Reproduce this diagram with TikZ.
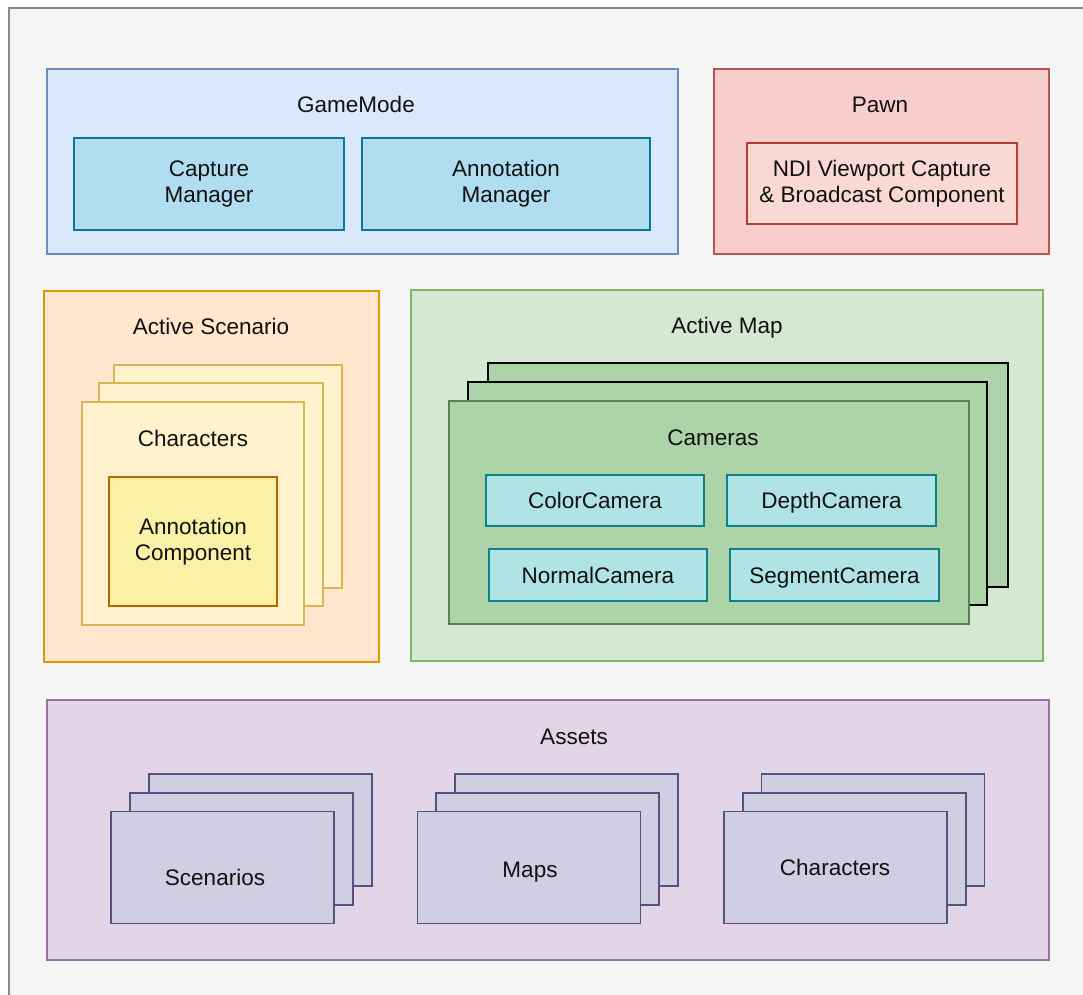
\documentclass[tikz,border=0pt]{standalone}
\usepackage{fontspec}
\setmainfont{Liberation Sans}
\definecolor{frameFill}{HTML}{F5F5F5}
\definecolor{frameLine}{HTML}{8A8A8A}
\definecolor{blueFill}{HTML}{DAE8FC}
\definecolor{blueLine}{HTML}{6C8EBF}
\definecolor{cyanFill}{HTML}{B1DDF0}
\definecolor{cyanLine}{HTML}{10739E}
\definecolor{redFill}{HTML}{F8CECC}
\definecolor{redLine}{HTML}{B85450}
\definecolor{pinkFill}{HTML}{FAD9D5}
\definecolor{pinkLine}{HTML}{AE4132}
\definecolor{orangeFill}{HTML}{FFE6CC}
\definecolor{orangeLine}{HTML}{D79B00}
\definecolor{yellowFill}{HTML}{FFF2CC}
\definecolor{yellowLine}{HTML}{D6B656}
\definecolor{goldFill}{HTML}{F9F1A6}
\definecolor{goldLine}{HTML}{B46504}
\definecolor{greenFill}{HTML}{D5E8D4}
\definecolor{greenLine}{HTML}{82B366}
\definecolor{camFill}{HTML}{ADD4A9}
\definecolor{camLine}{HTML}{5E7F4F}
\definecolor{tealFill}{HTML}{B0E3E6}
\definecolor{tealLine}{HTML}{0E8088}
\definecolor{purpleFill}{HTML}{E1D5E7}
\definecolor{purpleLine}{HTML}{9673A6}
\definecolor{slateFill}{HTML}{D0CEE2}
\definecolor{slateLine}{HTML}{56517E}
\definecolor{ink}{HTML}{111111}
\tikzset{
  txt/.style={text=ink, align=center, font=\fontsize{22.5}{26}\selectfont},
  oneline/.style={text height=16pt, text depth=0pt},
  box/.style={txt, draw, rectangle, inner sep=0pt, outer sep=0pt, line width=1.8pt},
  title/.style={txt, oneline, inner sep=0pt},
  sz/.style 2 args={minimum width=#1, minimum height=#2},
  bluebox/.style={box, fill=blueFill, draw=blueLine},
  cyanbox/.style={box, fill=cyanFill, draw=cyanLine},
  redbox/.style={box, fill=redFill, draw=redLine},
  pinkbox/.style={box, fill=pinkFill, draw=pinkLine},
  orangebox/.style={box, fill=orangeFill, draw=orangeLine},
  yellowbox/.style={box, fill=yellowFill, draw=yellowLine},
  goldbox/.style={box, fill=goldFill, draw=goldLine},
  greenbox/.style={box, fill=greenFill, draw=greenLine},
  cambox/.style={box, fill=camFill, draw=camLine},
  camback/.style={box, fill=camFill, draw=black},
  tealbox/.style={box, oneline, fill=tealFill, draw=tealLine},
  purplebox/.style={box, fill=purpleFill, draw=purpleLine},
  slatebox/.style={box, fill=slateFill, draw=slateLine, sz={223}{112}},
}
\begin{document}
\begin{tikzpicture}[x=1pt, y=-1pt]
  \useasboundingbox (0,0) rectangle (1083,994);
  \fill[white] (0,0) rectangle (1083,994);
  \begin{scope}
    \clip (0,0) rectangle (1083,994);
    \draw[fill=frameFill, draw=frameLine, line width=2pt] (9,8) rectangle (1110,1020);
  \end{scope}

  % GameMode
  \node[bluebox, sz={631}{185}] (gm) at (362.5,161.5) {};
  \node[title] (gmT) at (356,104) {GameMode};
  \node[cyanbox, sz={270}{92}] (cap) at (209,184) {Capture\\Manager};
  \node[cyanbox, sz={288}{92}] (ann) at (506,184) {Annotation\\Manager};

  % Pawn
  \node[redbox, sz={335}{185}] (pawn) at (881.5,161.5) {};
  \node[title] (pawnT) at (880,104) {Pawn};
  \node[pinkbox, sz={270}{81}] (ndi) at (882,183.5) {NDI Viewport Capture\\\& Broadcast Component};

  % Active Scenario
  \node[orangebox, sz={335}{371}] (scen) at (211.5,476.5) {};
  \node[title] (scenT) at (211,326) {Active Scenario};
  \node[yellowbox, sz={228}{223}] (chC) at (228,476.5) {};
  \node[yellowbox, sz={224}{223}] (chB) at (211,494.5) {};
  \node[yellowbox, sz={222}{223}] (chA) at (193,513.5) {};
  \node[title] (chT) at (193,438) {Characters};
  \node[goldbox, sz={168}{129}] (annc) at (193,541.5) {Annotation\\Component};

  % Active Map
  \node[greenbox, sz={632}{371}] (map) at (727,475.5) {};
  \node[title] (mapT) at (727,325) {Active Map};
  \node[camback, sz={520}{224}] (camC) at (748,475) {};
  \node[camback, sz={519}{223}] (camB) at (727.5,493.5) {};
  \node[cambox, sz={520}{223}] (camA) at (709,512.5) {};
  \node[title] (camT) at (713,437) {Cameras};
  \node[tealbox, sz={218}{51}] (color) at (595,500.5) {ColorCamera};
  \node[tealbox, sz={209}{51}] (depth) at (831.5,500.5) {DepthCamera};
  \node[tealbox, sz={218}{52}] (normal) at (598,575) {NormalCamera};
  \node[tealbox, sz={209}{52}] (segment) at (834.5,575) {SegmentCamera};

  % Assets
  \node[purplebox, sz={1002}{260}] (assets) at (548,830) {};
  \node[title] (assetsT) at (574,736) {Assets};

  \node[slatebox] (scC) at (260.5,830) {};
  \node[slatebox] (scB) at (241.5,849) {};
  \node[slatebox] (scA) at (222.5,867.5) {};
  \node[title] (scT) at (215,877) {Scenarios};

  \node[slatebox] (mpC) at (566.5,830) {};
  \node[slatebox] (mpB) at (547.5,849) {};
  \node[slatebox] (mpA) at (529,867.5) {};
  \node[title] (mpT) at (530,869) {Maps};

  \node[slatebox] (crC) at (873,830) {};
  \node[slatebox] (crB) at (854.5,849) {};
  \node[slatebox] (crA) at (835.5,867.5) {};
  \node[title] (crT) at (835,867) {Characters};
\end{tikzpicture}
\end{document}
